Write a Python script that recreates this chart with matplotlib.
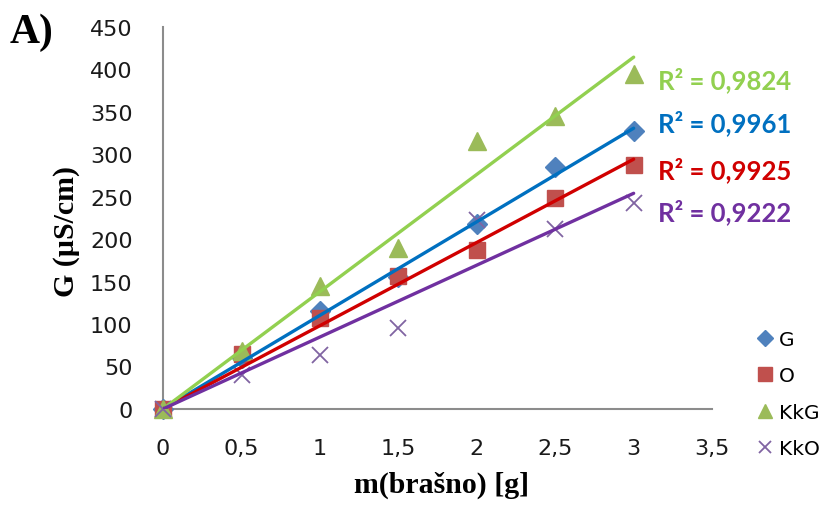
import numpy as np
import matplotlib
matplotlib.use("Agg")
from matplotlib import pyplot as plt

# data
x = [0, 0.5, 1, 1.5, 2, 2.5, 3]
g_vals = [0, 60, 115, 155, 218, 285, 327]
o_vals = [0, 65, 107, 157, 187, 248, 287]
kkg_vals = [0, 68, 145, 190, 315, 345, 395]
kko_vals = [0, 40, 63, 95, 222, 212, 242]
series_names = ['G', 'O', 'KkG', 'KkO']
r2_labels = ['R² = 0,9961', 'R² = 0,9925', 'R² = 0,9824', 'R² = 0,9222']
x_ticks = [0, 0.5, 1, 1.5, 2, 2.5, 3, 3.5]
y_ticks = list(range(0, 451, 50))

plt.rcParams['font.family'] = ['DejaVu Sans']

fig = plt.figure(figsize=(8.28, 5.06), dpi=100)
ax = fig.add_axes([0.197, 0.19, 0.663, 0.755])

styles = [
    # marker, ms, marker colour, line colour
    ('D', 10, '#4F81BD', '#0070C0'),
    ('s', 11.5, '#C0504D', '#D00000'),
    ('^', 12.5, '#9BBB59', '#92D050'),
    ('x', 11, '#8064A2', '#7030A0'),
]
all_vals = [g_vals, o_vals, kkg_vals, kko_vals]
xa = np.array(x)
handles = []
for vals, name, (mk, ms, mc, lc) in zip(all_vals, series_names, styles):
    ya = np.array(vals)
    if mk == 'x':
        h, = ax.plot(xa, ya, ls='none', marker=mk, ms=ms, mec=mc, mew=1.3,
                     label=name, zorder=3, clip_on=False)
    else:
        h, = ax.plot(xa, ya, ls='none', marker=mk, ms=ms, mfc=mc, mec=mc,
                     label=name, zorder=3, clip_on=False)
    handles.append(h)
    # linear trend through the origin
    k = np.sum(xa * ya) / np.sum(xa * xa)
    ax.plot([0, 3], [0, 3 * k], color=lc, lw=2.4, zorder=4,
            solid_capstyle='round')

ax.set_xlim(0, 3.5)
ax.set_ylim(0, 450)
ax.set_xticks(x_ticks)
ax.set_xticklabels([('%g' % v).replace('.', ',') for v in x_ticks])
ax.set_yticks(y_ticks)
ax.tick_params(length=0, labelsize=16, labelcolor='#1a1a1a')
ax.tick_params(axis='x', pad=21)
ax.tick_params(axis='y', pad=22)
for s in ['top', 'right']:
    ax.spines[s].set_visible(False)
for s in ['left', 'bottom']:
    ax.spines[s].set_color('#8c8c8c')
    ax.spines[s].set_linewidth(1.5)

serif = 'Liberation Serif'
ax.set_xlabel('m(brašno) [g]', family=serif, fontweight='bold', fontsize=21.5)
ax.xaxis.set_label_coords((440 - 163) / 546, -(485 - 410) / 382)
ax.xaxis.label.set_va('center')
ax.set_ylabel('G (µS/cm)', family=serif, fontweight='bold', fontsize=21.5)
ax.yaxis.set_label_coords(-(163 - 67) / 546, (410 - 232) / 382)
ax.yaxis.label.set_va('center')
fig.text(0.012, 0.935, 'A)', family=serif, fontweight='bold', fontsize=30,
         va='center')

# R² labels
r2_colors = ['#0070C0', '#D00000', '#92D050', '#7030A0']
r2_y = [123, 170, 80, 212]
for lab, col, yp in zip(r2_labels, r2_colors, r2_y):
    fig.text(658 / 828, 1 - yp / 506, lab, color=col, family='Lato',
             fontweight='bold', fontsize=18.5, va='center')

leg = fig.legend(handles=handles, loc='center left',
                 bbox_to_anchor=(757 / 828, 1 - 395 / 506), frameon=False,
                 fontsize=14.5, handlelength=0.8, handletextpad=0.3,
                 labelspacing=0.85, markerscale=0.85, borderpad=0,
                 borderaxespad=0)

fig.savefig('out.png', dpi=100)
